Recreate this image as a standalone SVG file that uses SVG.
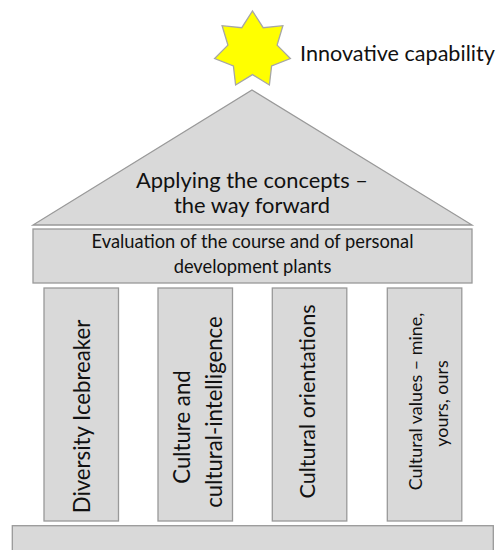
<svg xmlns="http://www.w3.org/2000/svg" width="499" height="550" viewBox="0 0 499 550">
  <style>
    .block { fill: #d9d9d9; stroke: #999999; stroke-width: 1.3; }
    .star { fill: #ffff00; stroke: #a6a6a6; stroke-width: 1.3; stroke-linejoin: miter; }
    .label { font-family: Lato, "Open Sans", "Liberation Sans", sans-serif; fill: #111111; }
    .mid { text-anchor: middle; }
  </style>
  <rect width="499" height="550" fill="#ffffff"/>

  <!-- seven-pointed star on top of the roof -->
  <g id="star">
    <polygon class="star" points="252.5,11 263.2,27.7 282.9,25.7 277.1,45.1 290.4,58.6 271.6,66.0 269.4,85 252.5,74.6 235.6,85 233.4,66.0 214.6,58.6 227.9,45.1 222.1,25.7 241.8,27.7"/>
    <text class="label" x="300" y="61" font-size="21.6">Innovative capability</text>
  </g>

  <!-- roof -->
  <g id="roof">
    <polygon class="block" points="252,90 472,225 33,225"/>
    <text class="label mid" x="252" y="188" font-size="21.9">Applying the concepts –</text>
    <text class="label mid" x="252" y="213" font-size="21.9">the way forward</text>
  </g>

  <!-- beam -->
  <g id="evaluation">
    <rect class="block" x="33" y="229" width="439" height="54"/>
    <text class="label mid" x="252.5" y="247.5" font-size="18.3">Evaluation of the course and of personal</text>
    <text class="label mid" x="252.5" y="273" font-size="18.3">development plants</text>
  </g>

  <!-- pillars -->
  <g id="pillar-diversity">
    <rect class="block" x="44" y="288" width="74.5" height="233"/>
    <text class="label mid" font-size="22.2" transform="translate(90,416.5) rotate(-90)">Diversity Icebreaker</text>
  </g>
  <g id="pillar-culture">
    <rect class="block" x="158" y="288" width="74.5" height="233"/>
    <text class="label mid" font-size="22.2" transform="translate(190,427) rotate(-90)">Culture and</text>
    <text class="label mid" font-size="22.2" transform="translate(221.5,412) rotate(-90)">cultural-intelligence</text>
  </g>
  <g id="pillar-orientations">
    <rect class="block" x="272.3" y="288" width="74.5" height="233"/>
    <text class="label mid" font-size="21.6" transform="translate(315,401.5) rotate(-90)">Cultural orientations</text>
  </g>
  <g id="pillar-values">
    <rect class="block" x="387.3" y="288" width="74.5" height="233"/>
    <text class="label mid" font-size="17.9" transform="translate(421.5,401.5) rotate(-90)">Cultural values – mine,</text>
    <text class="label mid" font-size="17.9" transform="translate(448,403.5) rotate(-90)">yours, ours</text>
  </g>

  <!-- foundation -->
  <g id="foundation">
    <rect class="block" x="12.3" y="525.7" width="481" height="40"/>
  </g>

  <g id="connectors"/>
</svg>
